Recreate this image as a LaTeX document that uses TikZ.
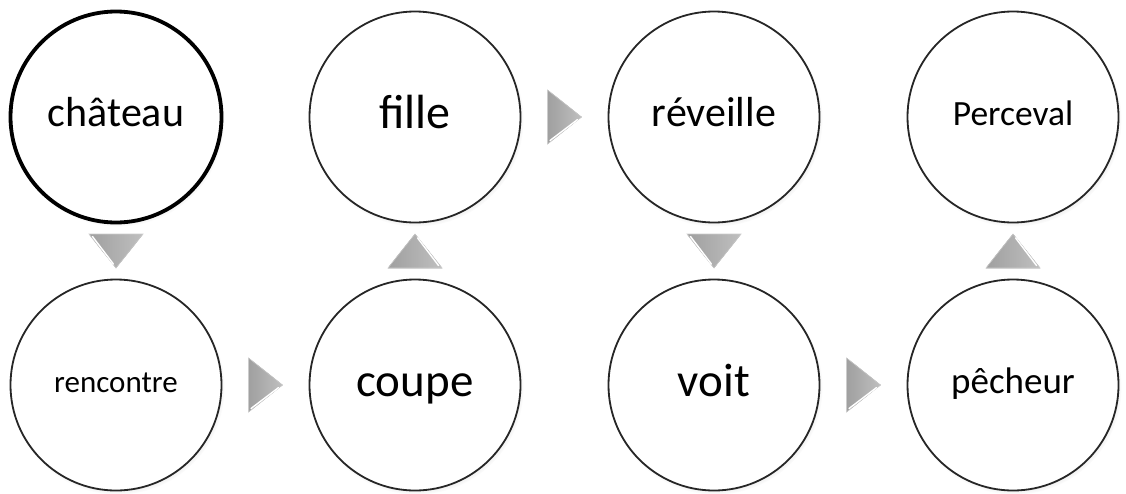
\documentclass[tikz,border=0pt]{standalone}
\usepackage{fontspec}
\setmainfont{Carlito}
\usetikzlibrary{shadows,calc}
\begin{document}
\begin{tikzpicture}[x=1pt,y=1pt,
  stage/.style={circle, draw=black!85, line width=1.8pt, fill=white,
    minimum size=211pt, inner sep=0pt, text=black,
    circular drop shadow={shadow xshift=1.5pt, shadow yshift=-2.5pt, shadow scale=1.015, opacity=0.35}},
  fs/.code={%
    \pgfmathsetmacro\myh{0.72*#1}%
    \pgfmathsetmacro\myd{0.25*#1}%
    \edef\mytmp{\noexpand\tikzset{font=\noexpand\fontsize{#1}{#1}\noexpand\selectfont,
      text height=\myh pt, text depth=\myd pt}}\mytmp},
  sel/.style={line width=3.8pt, draw=black},
  tri/.pic={
    \fill[left color=gray!75, right color=gray!50, draw=gray!40, line width=0.6pt]
      (-17,27) -- (17,0) -- (-17,-27) -- cycle;
    \draw[white, line width=1.4pt, line cap=round] (13,-2.6) -- (-14.5,-23.5);
  }
]
\useasboundingbox (0,0) rectangle (1126,-493);
\fill[white] (0,0) rectangle (1126,-493);

\node[stage, sel, fs=42] (chateau) at (116,-117) {château};
\node[stage, fs=48] (fille) at (415,-117) {fille};
\node[stage, fs=42] (reveille) at (714,-117) {réveille};
\node[stage, fs=35.5] (perceval) at (1013,-117) {Perceval};

\node[stage, fs=31] (rencontre) at (116,-385) {rencontre};
\node[stage, fs=47] (coupe) at (415,-385) {coupe};
\node[stage, fs=47] (voit) at (714,-385) {voit};
\node[stage, fs=37] (pecheur) at (1013,-385) {pêcheur};

\pic[rotate=-90] at ($(chateau)!0.5!(rencontre)$) {tri};
\pic at ($(rencontre)!0.5!(coupe)$) {tri};
\pic[rotate=90] at ($(coupe)!0.5!(fille)$) {tri};
\pic at ($(fille)!0.5!(reveille)$) {tri};
\pic[rotate=-90] at ($(reveille)!0.5!(voit)$) {tri};
\pic at ($(voit)!0.5!(pecheur)$) {tri};
\pic[rotate=90] at ($(pecheur)!0.5!(perceval)$) {tri};
\end{tikzpicture}
\end{document}
